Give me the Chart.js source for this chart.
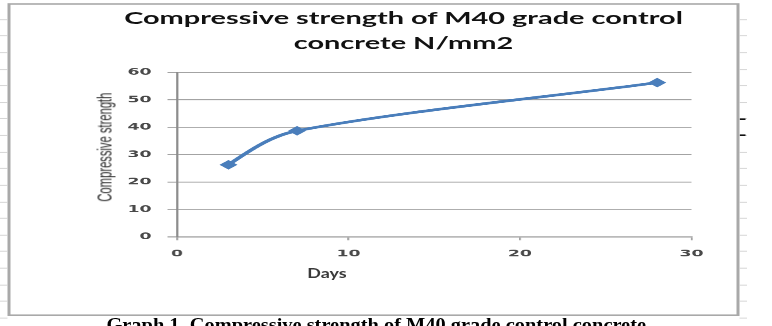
<!DOCTYPE html>
<html>
<head>
<meta charset="utf-8">
<script src="https://cdn.jsdelivr.net/npm/chart.js@4/dist/chart.umd.min.js"></script>
<style>
  html, body { margin:0; padding:0; background:#fff; }
  body { width:772px; height:326px; overflow:hidden; position:relative; }
  #stage { position:absolute; left:0; top:0; width:514.67px; height:407.5px;
           transform:scale(1.5,0.8); transform-origin:0 0; }
  .strip { position:absolute; top:0; height:407.5px;
           background-image:repeating-linear-gradient(to bottom, transparent 0px, transparent 19.5px, #d6d6d6 19.5px, #d6d6d6 20.75px);
           background-position:0 4px; }
  #frame { position:absolute; box-sizing:border-box; left:5.333px; top:3.75px; width:488px; height:391.25px;
           border-style:solid; border-color:#a9a9a9; border-width:2.5px 2px 2.5px 2px; background:#fff; }
  #frame canvas { position:absolute; left:0; top:0; }
  .mark { position:absolute; left:493.33px; width:4px; height:2.5px; background:#111; }
  #title { position:absolute; left:0; top:6.5px; width:538px; text-align:center;
           font:700 19.3px Lato, "Open Sans", sans-serif; line-height:27.5px; color:#111;
           transform:scaleY(1.1); transform-origin:50% 0; }
  #xtitle { position:absolute; left:167.7px; top:331px; width:100px; text-align:center;
           font:700 12.3px Lato, "Open Sans", sans-serif; line-height:15px; color:#3a3a3a;
           transform:scale(0.97,1.35); transform-origin:50% 0; }
  #ytitle { position:absolute; left:-31.3px; top:175.75px; width:200px; text-align:center;
           font:400 14px "Liberation Sans", Arial, sans-serif; line-height:16px; color:#2e2e2e;
           transform:rotate(-90deg); transform-origin:50% 50%; }
  #caption { position:absolute; left:0; top:394px; width:501.4px; text-align:center; white-space:nowrap; }
  #caption span { display:inline-block; font:700 17px "Liberation Serif", "Times New Roman", serif;
           line-height:17px; color:#000; transform:scale(0.8,1.4); transform-origin:50% 0; }
</style>
</head>
<body>
<div id="stage">
  <div class="strip" style="left:0;width:5.33px;"></div>
  <div class="strip" style="left:493.33px;width:5px;"></div>
  <div class="mark" style="top:147.5px;"></div>
  <div class="mark" style="top:167.5px;"></div>
  <div id="frame"><canvas id="c" width="484" height="386"></canvas></div>
  <div id="title">Compressive strength of M40 grade control<br>concrete N/mm2</div>
  <div id="xtitle">Days</div>
  <div id="ytitle">Compressive strength</div>
  <div id="caption"><span>Graph 1. Compressive strength of M40 grade control concrete</span></div>
</div>
<script>
// ---- data ----
const days = [3, 7, 28];
const strength = [26.3, 38.7, 56.3];
const xTickValues = [0, 10, 20, 30];
const yTickValues = [0, 10, 20, 30, 40, 50, 60];

const seriesColor = '#4A7EBB';
const gridColor = '#a3a3a3';
const tickFont = { family: '"DejaVu Sans", Verdana, sans-serif', size: 11.5, weight: 'bold' };

// Excel-like smoothing at the start: first tangent aims at the next control point
const excelEndSmoothing = {
  id: 'excelEndSmoothing',
  beforeDatasetDraw(chart, args) {
    const meta = args.meta;
    if (!meta.dataset || !meta.data.length) return;
    meta.dataset.updateControlPoints(chart.chartArea, 'x');
    const pts = meta.data;
    if (pts.length > 2) {
      const p0 = pts[0], p1 = pts[1];
      p0.cp2x = p0.x + 0.5 * (p1.cp1x - p0.x);
      p0.cp2y = p0.y + 0.5 * (p1.cp1y - p0.y);
    }
  }
};

new Chart(document.getElementById('c'), {
  type: 'line',
  data: {
    datasets: [{
      label: 'Compressive strength',
      data: days.map((d, i) => ({ x: d, y: strength[i] })),
      borderColor: seriesColor,
      backgroundColor: seriesColor,
      borderWidth: 3.4,
      tension: 0.3,
      pointStyle: 'rectRot',
      pointRadius: 6,
      pointBorderWidth: 0,
      pointBackgroundColor: seriesColor,
      fill: false
    }]
  },
  plugins: [excelEndSmoothing],
  options: {
    responsive: false,
    animation: false,
    devicePixelRatio: 2,
    events: [],
    layout: { padding: { top: 84.6, right: 30, left: 0, bottom: 0 } },
    plugins: { legend: { display: false }, title: { display: false }, tooltip: { enabled: false } },
    scales: {
      x: {
        type: 'linear',
        min: xTickValues[0],
        max: xTickValues[xTickValues.length - 1],
        afterBuildTicks: s => { s.ticks = xTickValues.map(v => ({ value: v })); },
        afterFit: s => { s.height = 96; },
        grid: { drawOnChartArea: false, drawTicks: true, tickLength: 4.5, color: gridColor, lineWidth: 1.3 },
        border: { display: true, color: gridColor, width: 1.3 },
        ticks: { font: tickFont, color: '#4a4a4a', padding: 10, maxRotation: 0 }
      },
      y: {
        type: 'linear',
        min: yTickValues[0],
        max: yTickValues[yTickValues.length - 1],
        afterBuildTicks: s => { s.ticks = yTickValues.map(v => ({ value: v })); },
        afterFit: s => { s.width = 111; },
        grid: { drawOnChartArea: true, drawTicks: true, tickLength: 6.3, color: gridColor, lineWidth: 1.3 },
        border: { display: true, color: '#8a8a8a', width: 1.4 },
        ticks: { font: tickFont, color: '#4a4a4a', padding: 10.7 }
      }
    }
  }
});
</script>
</body>
</html>
